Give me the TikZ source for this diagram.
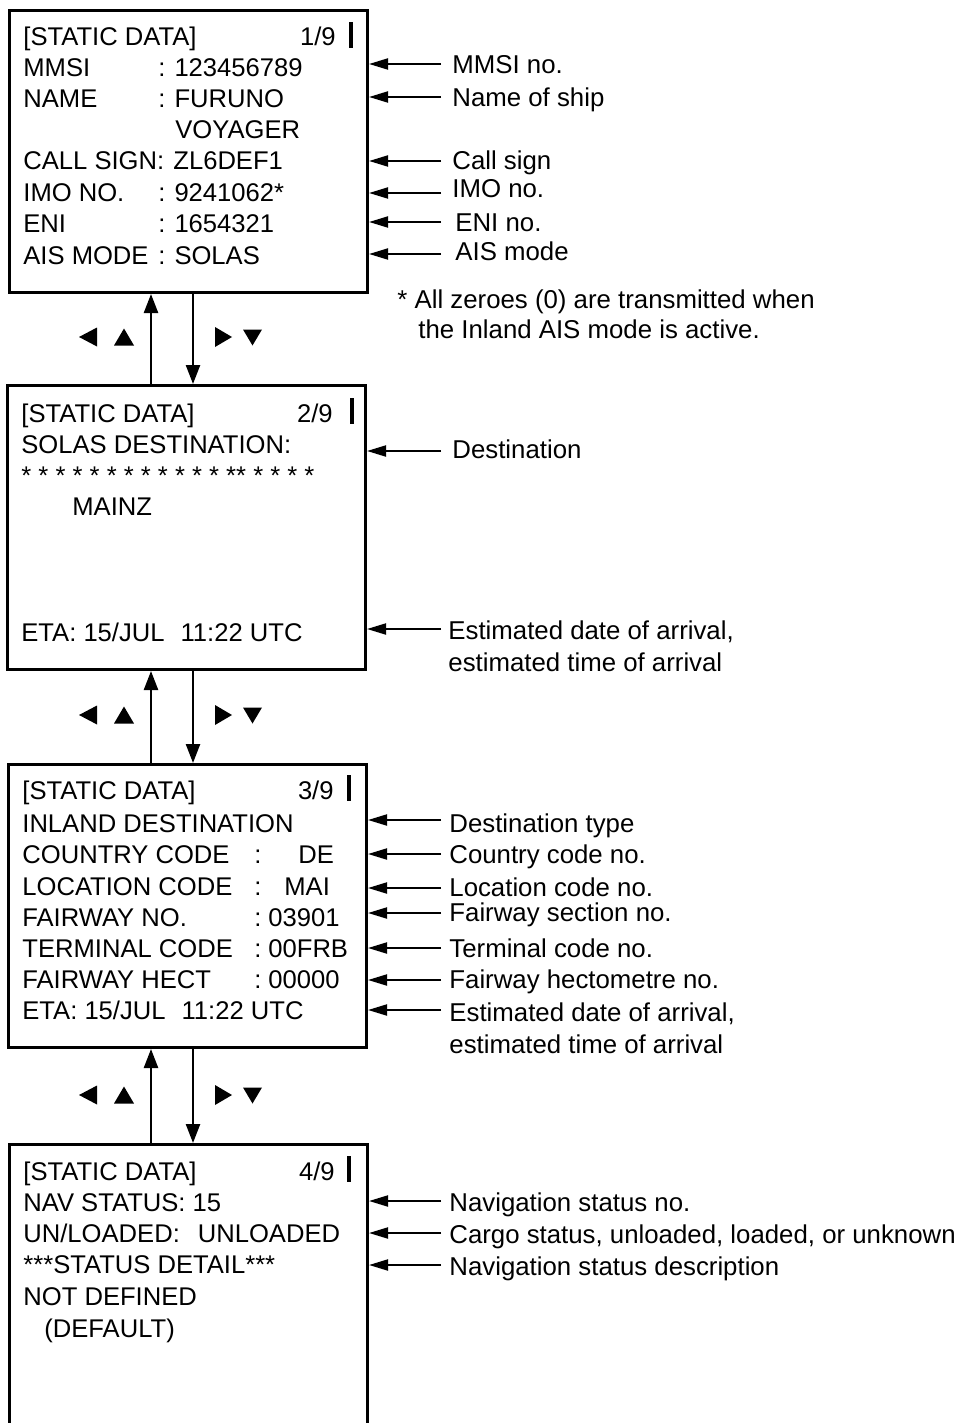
\documentclass[tikz,border=0pt]{standalone}
\usepackage{fontspec}
\setmainfont{Liberation Sans}
\usetikzlibrary{arrows.meta,positioning,calc}
\newcommand{\scrfont}{\fontsize{12.8}{15}\selectfont}
\newcommand{\notefont}{\fontsize{12.9}{15}\selectfont}

\begin{document}
\begin{tikzpicture}[x=0.5pt,y=-0.5pt,
    screen/.style={draw,line width=1.5pt,anchor=north west,minimum width=179pt,inner sep=0pt},
    txt/.style={anchor=base west,inner sep=0pt,font=\scrfont},
    pg/.style={anchor=base east,inner sep=0pt,font=\scrfont},
    lbl/.style={anchor=base west,inner sep=0pt,font=\notefont},
    pointer/.style={line width=1pt,-{Triangle[length=9.5pt,width=5.5pt]}},
    flow/.style={line width=1.2pt,-{Triangle[length=9.5pt,width=7pt]}}]
  \useasboundingbox (0,0) rectangle (962,1423);
  \clip (0,0) rectangle (962,1423);

  % screens
  \node[screen,minimum height=141pt] (s1) at (8,9) {};
  \node[screen,minimum height=142pt] (s2) at (6,384) {};
  \node[screen,minimum height=141.5pt] (s3) at (7,763) {};
  \node[screen,minimum height=160pt] (s4) at (8,1143) {};

  \foreach \n/\x/\y/\r/\bx in {1/23/46/336/349, 2/21/422/333/350, 3/22/799/334/347, 4/23/1180/335/347} {
    \node[txt] (h\n) at (\x,\y) {[STATIC DATA]};
    \node[pg] (p\n) at (\r,\y) {\n/9};
    \fill (\bx,\y-24) rectangle (\bx+4,\y+2);
  }

  % page 1
  \foreach \y/\k/\v [count=\i] in {77/MMSI/123456789, 108/NAME/FURUNO, 202/IMO NO./9241062*, 233/ENI/1654321, 264/AIS MODE/SOLAS} {
    \node[txt] (a\i) at (23,\y) {\k};
    \node[txt] (b\i) at (158,\y) {:\hspace{4.5pt}\v};
  }
  \node[txt] (a6) at (175,139) {VOYAGER};
  \node[txt] (a7) at (23,170) {CALL SIGN:};
  \node[txt] (b7) at (173,170) {ZL6DEF1};

  % page 2
  \node[txt] (d1) at (21,453) {SOLAS DESTINATION:};
  \node[txt] (d2) at (21,484) {* * * * * * * * * * * * ** * * * *};
  \node[txt] (d3) at (72,515) {MAINZ};
  \node[txt] (d4) at (21,641) {ETA: 15/JUL\hspace{8pt}11:22 UTC};

  % page 3
  \node[txt] (c0) at (22,832) {INLAND DESTINATION};
  \foreach \y/\k/\v/\x [count=\i] in {863/COUNTRY CODE/DE/298, 895/LOCATION CODE/MAI/284, 926/FAIRWAY NO./03901/268, 957/TERMINAL CODE/00FRB/268, 988/FAIRWAY HECT/00000/268} {
    \node[txt] (ck\i) at (22,\y) {\k};
    \node[txt] (cc\i) at (254,\y) {:};
    \node[txt] (cv\i) at (\x,\y) {\v};
  }
  \node[txt] (c6) at (22,1019) {ETA: 15/JUL\hspace{8pt}11:22 UTC};

  % page 4
  \node[txt] (n1) at (23,1211) {NAV STATUS: 15};
  \node[txt] (n2) at (23,1242) {UN/LOADED:\hspace{9pt}UNLOADED};
  \node[txt] (n3) at (23,1273) {***STATUS DETAIL***};
  \node[txt] (n4) at (23,1305) {NOT DEFINED};
  \node[txt] (n5) at (44,1337) {(DEFAULT)};

  % callouts
  \foreach \s/\ay/\ty/\tx/\t [count=\i] in {
      1/64/74/452/MMSI no., 1/97/107/452/Name of ship, 1/161/170/452/Call sign,
      1/193/198/452/IMO no., 1/222/232/455/ENI no., 1/254/260/455/AIS mode,
      2/451/458/452/Destination, 2/629/639/448/{Estimated date of arrival,},
      3/820/832/449/Destination type, 3/854/863/449/Country code no.,
      3/888/896/449/Location code no., 3/913/921/449/Fairway section no.,
      3/948/957/449/Terminal code no., 3/980/988/449/Fairway hectometre no.,
      3/1010/1021/449/{Estimated date of arrival,},
      4/1201/1211/449/Navigation status no.,
      4/1233/1243/449/{Cargo status, unloaded, loaded, or unknown},
      4/1265/1275/449/Navigation status description} {
    \coordinate (m\i) at (441,\ay);
    \node[lbl] (t\i) at (\tx,\ty) {\t};
    \draw[pointer] (m\i) -- (m\i -| s\s.east);
  }
  \node[lbl] (e1) at (448,671) {estimated time of arrival};
  \node[lbl] (e2) at (449,1053) {estimated time of arrival};
  \node[lbl] (fn1) at (397,308) {* All zeroes (0) are transmitted when};
  \node[lbl] (fn2) at (418,338) {the Inland AIS mode is active.};

  % scrolling between pages
  \coordinate (upx) at (151,0);
  \coordinate (dnx) at (193,0);
  \foreach \a/\b in {1/2,2/3,3/4} {
    \draw[flow] (s\b.north -| upx) -- (s\a.south -| upx);
    \draw[flow] (s\a.south -| dnx) -- (s\b.north -| dnx);
  }
  \foreach \y in {337,715,1095} {
    \fill (79,\y) -- (97,\y-9.5) -- (97,\y+9.5) -- cycle;
    \fill (114,\y+8.5) -- (134,\y+8.5) -- (124,\y-8.5) -- cycle;
    \fill (215,\y-10) -- (215,\y+10) -- (232,\y) -- cycle;
    \fill (243,\y-7.5) -- (262,\y-7.5) -- (252.5,\y+8.5) -- cycle;
  }
\end{tikzpicture}
\end{document}
